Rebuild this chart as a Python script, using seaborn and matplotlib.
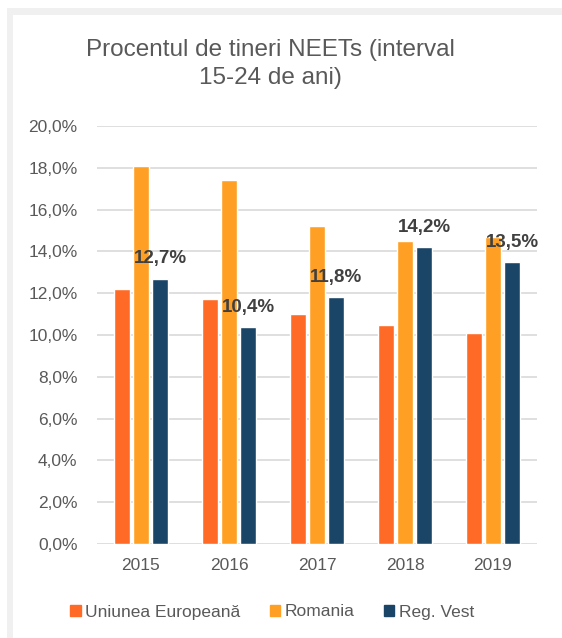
import pandas as pd
import matplotlib.pyplot as plt
import seaborn as sns
from matplotlib.patches import Rectangle

# Values (percent)
years = ["2015", "2016", "2017", "2018", "2019"]
series = ["Uniunea Europeană", "Romania", "Reg. Vest"]
ue_values = [12.2, 11.7, 11.0, 10.5, 10.1]
ro_values = [18.1, 17.4, 15.2, 14.5, 14.7]
vest_values = [12.7, 10.4, 11.8, 14.2, 13.5]
y_ticks = [0, 2, 4, 6, 8, 10, 12, 14, 16, 18, 20]

colors = ["#FF6B26", "#FFA024", "#1B4566"]
text_gray = "#595959"


def pct(v):
    return f"{v:.1f}%".replace(".", ",")


def build_frame():
    """Long-form table for seaborn."""
    rows = []
    for name, vals in zip(series, [ue_values, ro_values, vest_values]):
        for year, v in zip(years, vals):
            rows.append({"An": year, "Serie": name, "Valoare": v})
    return pd.DataFrame(rows)


def main():
    sns.set_style("white")
    plt.rcParams["font.family"] = ["Liberation Sans", "DejaVu Sans"]

    data = build_frame()

    fig = plt.figure(figsize=(5.62, 6.38), dpi=100)
    W, H = 562, 638

    # light grey panel border like the original screenshot
    fig.patches.append(Rectangle((7 / W, 0), 1, 1 - 8 / H, transform=fig.transFigure,
                                 facecolor="#F0F0F0", edgecolor="none", zorder=-10))
    fig.patches.append(Rectangle((13 / W, 0), 1, 1 - 15 / H, transform=fig.transFigure,
                                 facecolor="white", edgecolor="none", zorder=-9))

    ax = fig.add_axes([97 / W, 94 / H, 440 / W, 418 / H])
    ax.set_facecolor("none")

    sns.barplot(data=data, x="An", y="Valoare", hue="Serie", palette=colors,
                width=0.65, gap=0.2, saturation=1, ax=ax, legend=False)

    ax.set_ylim(0, 20)
    ax.set_xlim(-0.5, len(years) - 0.5)
    ax.set_yticks(y_ticks)
    ax.set_yticklabels([pct(t) for t in y_ticks])
    ax.yaxis.grid(True, color="#D9D9D9", linewidth=1.2)
    ax.set_axisbelow(True)
    for s in ax.spines.values():
        s.set_visible(False)
    ax.tick_params(axis="both", length=0, labelsize=12.5, labelcolor=text_gray)
    ax.tick_params(axis="x", pad=10)
    ax.tick_params(axis="y", pad=14)
    ax.set_xlabel("")
    ax.set_ylabel("")

    # data labels only for Reg. Vest
    ax.bar_label(ax.containers[2], labels=[pct(v) for v in vest_values],
                 padding=8, fontsize=13.5, fontweight="bold", color="#404040")

    fig.text(0.482, 1 - 64 / H, "Procentul de tineri NEETs (interval\n15-24 de ani)",
             ha="center", va="center", fontsize=17.5, color=text_gray,
             linespacing=1.32)

    handles = [plt.Rectangle((0, 0), 1, 1, color=c) for c in colors]
    fig.legend(handles, series, loc="center", bbox_to_anchor=(0.484, 1 - 612 / H),
               ncol=3, frameon=False, fontsize=12.5, labelcolor=text_gray,
               handlelength=0.6, handleheight=0.6, handletextpad=0.25,
               columnspacing=1.7)

    fig.savefig("out.png", dpi=100)


if __name__ == "__main__":
    main()
